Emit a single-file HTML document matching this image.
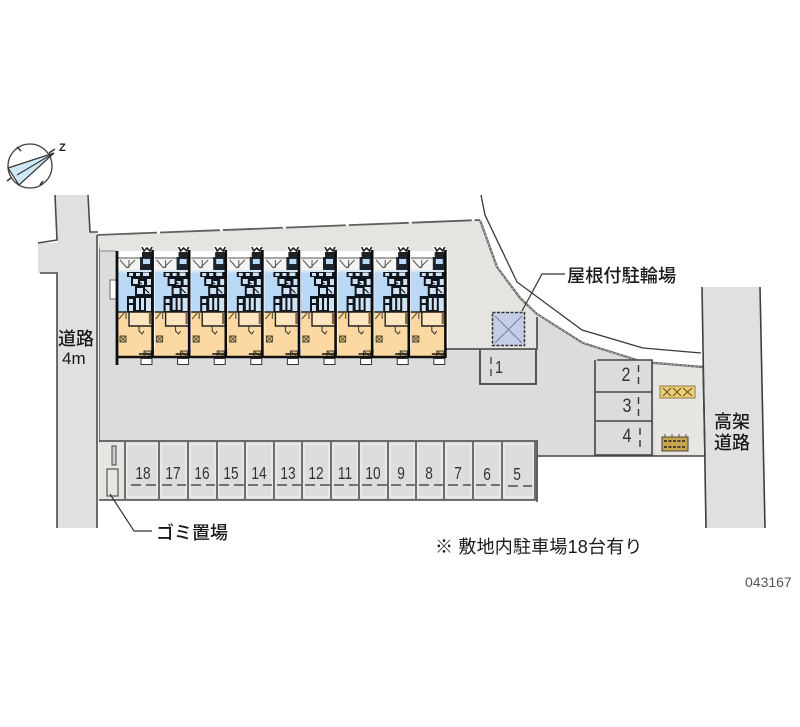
<!DOCTYPE html>
<html lang="ja">
<head>
<meta charset="utf-8">
<title>043167</title>
<style>
html,body{margin:0;padding:0;background:#fff;width:800px;height:727px;overflow:hidden}
svg{display:block}
text{font-family:"Liberation Sans","Noto Sans CJK JP",sans-serif;fill:#1a1a1a}
.j{font-size:18px;font-weight:500}
.n{font-size:18px;fill:#333;text-anchor:middle}
</style>
</head>
<body>
<svg width="800" height="727" viewBox="0 0 800 727" xmlns="http://www.w3.org/2000/svg">
<defs>
<g id="u">
  <rect x="24" y="246" width="11" height="11" fill="#fff"/>
  <path d="M25 247l2 4 3-3 3 3 2-4M25 255h10" stroke="#222" stroke-width="1.600" fill="none"/>
  <rect x="25" y="252" width="10" height="5" fill="#222"/>
  <rect x="1" y="258" width="23" height="12" fill="#f4f4f2"/>
  <path d="M3 260l7 8M10 268l8-8M12 260v8M1 258h23" stroke="#555" stroke-width="1" fill="none"/>
  <rect x="23" y="257" width="12" height="13" fill="#1c2430"/>
  <rect x="26" y="259" width="7" height="5" fill="#b9d9f6"/>
  <rect x="1" y="270" width="35" height="42" fill="#b9d9f6"/>
  <rect x="1" y="270" width="35" height="2.500" fill="#d8e8f4"/>
  <path d="M10 272h25v5H10zM14 277h21v9H14zM18 286h17v10H18zM10 296h25v16H10z" fill="#10141c"/>
  <path d="M12 273h4v3h-4zM19 273h4v3h-4zM26 272.500h6v3.500h-6zM30 279h4v6h-4zM16 279h5v5h-5zM23 281h4v4h-4zM20 288h6v6h-6zM28 287h6v7h-6zM12 299h4v4h-4zM12 305h4v6h-4zM19 298h3v12h-3zM24 298h3v12h-3zM29 298h5v13h-5z" fill="#cfe3f5"/>
  <path d="M28 289l4 4M22 282l3 2" stroke="#000" stroke-width="1"/>
  <rect x="1" y="312" width="35" height="45" fill="#fcd9a2"/>
  <rect x="13" y="313" width="20" height="12" fill="#fde6bf"/>
  <path d="M1 312h35M12 312v14h23" stroke="#222" stroke-width="1.400" fill="none"/>
  <path d="M33 312v12" stroke="#7a6340" stroke-width="2.200"/>
  <path d="M2 319l5-6M9 313v6" stroke="#65553a" stroke-width="1.200" fill="none"/>
  <path d="M22 326v5l3 3 2-3" stroke="#333" stroke-width="1" fill="none"/>
  <rect x="3" y="336" width="6" height="6" fill="#e5c180" stroke="#443" stroke-width="1"/>
  <path d="M3 336l6 6M9 336l-6 6" stroke="#443" stroke-width=".8"/>
  <rect x="27" y="351" width="7" height="6" fill="#e5c180" stroke="#443" stroke-width="1"/>
  <path d="M27 351l7 6" stroke="#443" stroke-width=".8"/>
  <path d="M0 357h36" stroke="#111" stroke-width="2.400"/>
  <path d="M22 354h14" stroke="#111" stroke-width="1.500"/>
  <rect x="24" y="358.500" width="11" height="6" fill="#fff" stroke="#333" stroke-width="1"/>
  <path d="M35.600 250v108" stroke="#0d0d0d" stroke-width="2.600"/>
</g>
</defs>

<!-- left road -->
<path d="M55 195H88L91 233H97V528H57V273H38V243H57Z" fill="#e0e0e0"/>
<path d="M55 195L57 240L38 243M88 195L90 232H98M40 273H57V528M97 235V528" fill="none" stroke="#4a4a4a" stroke-width="1.600"/>
<path d="M99.500 236V500" stroke="#777" stroke-width="1.200"/>

<!-- right road -->
<path d="M702 287H760L765 528H706Z" fill="#e0e0e0"/>
<path d="M702 287L706 528M760 287L765 528" fill="none" stroke="#3f3f3f" stroke-width="1.600"/>

<!-- site gray base -->
<path d="M100 251H118V349H537V316L583 344L643 362L655 364V456H537V500H100Z" fill="#dcdcdc"/>

<!-- beige upper area -->
<path d="M98 236L480 220L497 267L537 315V349H448V251H100Z" fill="#e6e4e0"/>
<path d="M654 364L702 366L704 456H655Z" fill="#e8e6e2"/>

<!-- boundary lines -->
<path d="M97 235L480 220" stroke="#5f5f5f" stroke-width="1.800" fill="none" stroke-dasharray="60 3"/>
<path d="M480 220L497 267L520 298L537 314L583 343L643 362L703 367" stroke="#6a6a6a" stroke-width="2.200" fill="none"/>
<path d="M480 220L497 267L520 298L537 314L583 343L643 362L703 367" stroke="#ddd" stroke-width=".7" fill="none" stroke-dasharray="2 2"/>
<path d="M481 195L485 215L517 282L582 330L643 348L701 353" stroke="#3a3a3a" stroke-width="1.300" fill="none"/>
<path d="M537 317V349H440" stroke="#555" stroke-width="1.800" fill="none"/>
<path d="M703 365L705 456H537" stroke="#444" stroke-width="1.600" fill="none"/>
<path d="M100 251H116" stroke="#888" stroke-width="1"/>

<!-- building -->
<rect x="110" y="280" width="7" height="19" fill="#fff" stroke="#666" stroke-width="1"/>
<use href="#u" x="117"/>
<use href="#u" x="153.600"/>
<use href="#u" x="190.200"/>
<use href="#u" x="226.800"/>
<use href="#u" x="263.400"/>
<use href="#u" x="300"/>
<use href="#u" x="336.600"/>
<use href="#u" x="373.200"/>
<use href="#u" x="409.800"/>
<path d="M117 251V365" stroke="#0d0d0d" stroke-width="2.800"/>

<!-- bike shelter -->
<rect x="492" y="312" width="33" height="34" fill="#c6cde6"/>
<path d="M495 316L522 343M522 316L495 343" stroke="#8088a8" stroke-width="1.200"/>
<rect x="492.500" y="312.500" width="32" height="33" fill="none" stroke="#333" stroke-width="1.500" stroke-dasharray="3 1.500"/>
<path d="M522 311L542 274H565" fill="none" stroke="#333" stroke-width="1.200"/>
<text x="567" y="282" class="j" style="font-size:18.200px">屋根付駐輪場</text>

<!-- parking 1 -->
<path d="M480 350V384H536V350" fill="none" stroke="#444" stroke-width="1.800"/>
<path d="M491 357V380" stroke="#333" stroke-width="1.200" stroke-dasharray="7 5"/>
<text class="n" transform="translate(499,373) scale(.8,1)">1</text>

<!-- parking 2-4 -->
<rect x="596" y="360" width="56" height="95" fill="#dcdcdc"/>
<path d="M595 360V456M597 360H652V456M596 392H652M596 421H652M595 455H652" fill="none" stroke="#444" stroke-width="1.600"/>
<path d="M638.500 365V388M638.500 397V419M640 428V451" stroke="#333" stroke-width="1.400" stroke-dasharray="7 5"/>
<text class="n" transform="translate(626,381) scale(.85,1)" style="font-size:19px">2</text>
<text class="n" transform="translate(627,412) scale(.85,1)" style="font-size:19px">3</text>
<text class="n" transform="translate(627,442) scale(.85,1)" style="font-size:19px">4</text>

<!-- yellow items -->
<rect x="660" y="386" width="35" height="12" fill="#efcf72" stroke="#8a7a50" stroke-width="1"/>
<path d="M663 388l8 8M671 388l-8 8M673 388l8 8M681 388l-8 8M683 388l9 8M692 388l-9 8" stroke="#5a5030" stroke-width="1"/>
<rect x="662" y="437" width="26" height="14" fill="#c9a550" stroke="#443" stroke-width="1"/>
<path d="M664 441h22M664 447h22" stroke="#222" stroke-width="1.500" stroke-dasharray="3 1.500"/>
<path d="M665 434v3M672 434v3M679 434v3M686 434v3" stroke="#554" stroke-width="1"/>

<!-- bottom lot -->
<rect x="99" y="442" width="26" height="58" fill="#e8e6e2"/>
<path d="M99 441H537V500H99" fill="none" stroke="#444" stroke-width="1.600"/>
<path d="M537 456V502" stroke="#555" stroke-width="1.600"/>
<path d="M125 442V499M159 442V499M188 442V499M217 442V499M245 442V499M274 442V499M302 442V499M331 442V499M359 442V499M388 442V499M416 442V499M444 442V499M473 442V499M502 442V499M535 442V499" stroke="#4a4a4a" stroke-width="1.500"/>
<path d="M127 444h30v53h-30zM161 444h25v53h-25zM190 444h25v53h-25zM219 444h24v53h-24zM247 444h25v53h-25zM276 444h24v53h-24zM304 444h25v53h-25zM333 444h24v53h-24zM361 444h25v53h-25zM390 444h24v53h-24zM418 444h24v53h-24zM446 444h25v53h-25zM475 444h25v53h-25zM504 444h29v53h-29z" fill="#dddddd" stroke="#f4f4f4" stroke-width="1"/>
<rect x="112" y="446" width="4" height="19" fill="#ccc" stroke="#444" stroke-width="1"/>
<rect x="107" y="469" width="11" height="27" fill="#e8e6e2" stroke="#555" stroke-width="1.200"/>
<path d="M110 494L134 531H152" fill="none" stroke="#333" stroke-width="1.200"/>
<text x="156" y="539" class="j">ゴミ置場</text>

<g stroke="#333" stroke-width="1.300" stroke-dasharray="10 5" fill="none">
<path d="M131 485H158M162 485H186M191 485H215M219 485H244M248 485H272M277 485H301M305 485H330M334 485H358M362 485H387M391 485H415M419 485H443M448 485H471M476 485H500M508 486H532"/>
</g>
<text class="n" transform="translate(143,479) scale(.76,1)">18</text>
<text class="n" transform="translate(173,479) scale(.76,1)">17</text>
<text class="n" transform="translate(202,479) scale(.76,1)">16</text>
<text class="n" transform="translate(231,479) scale(.76,1)">15</text>
<text class="n" transform="translate(259,479) scale(.76,1)">14</text>
<text class="n" transform="translate(288,479) scale(.76,1)">13</text>
<text class="n" transform="translate(316,479) scale(.76,1)">12</text>
<text class="n" transform="translate(345,479) scale(.76,1)">11</text>
<text class="n" transform="translate(373,479) scale(.76,1)">10</text>
<text class="n" transform="translate(401,479) scale(.76,1)">9</text>
<text class="n" transform="translate(429,479) scale(.76,1)">8</text>
<text class="n" transform="translate(458,479) scale(.76,1)">7</text>
<text class="n" transform="translate(487,480) scale(.76,1)">6</text>
<text class="n" transform="translate(517,480) scale(.76,1)">5</text>

<!-- road labels -->
<text x="58" y="345" class="j">道路</text>
<text x="62" y="364" class="j" style="font-size:17px">4m</text>
<text x="714" y="428" class="j">高架</text>
<text x="714" y="449" class="j">道路</text>

<!-- notes -->
<text x="435" y="553" style="font-size:18px;letter-spacing:.2px">※ 敷地内駐車場18台有り</text>
<text x="745" y="587" style="font-size:14px;fill:#555">043167</text>

<!-- compass -->
<circle cx="30" cy="166" r="22" fill="#fff" stroke="#444" stroke-width="1.300"/>
<path d="M54 153L8 168L19 185Z" fill="#cfe8f6" stroke="#333" stroke-width="1.200"/>
<path d="M54 153L17 175" stroke="#333" stroke-width="1.100"/>
<path d="M17 147l4 4M43 181l-3 4M11 178l-4 3M49 153l6-4" stroke="#333" stroke-width="1.500"/>
<text x="59" y="151" style="font-size:11px;font-weight:700">Z</text>
</svg>
</body>
</html>
